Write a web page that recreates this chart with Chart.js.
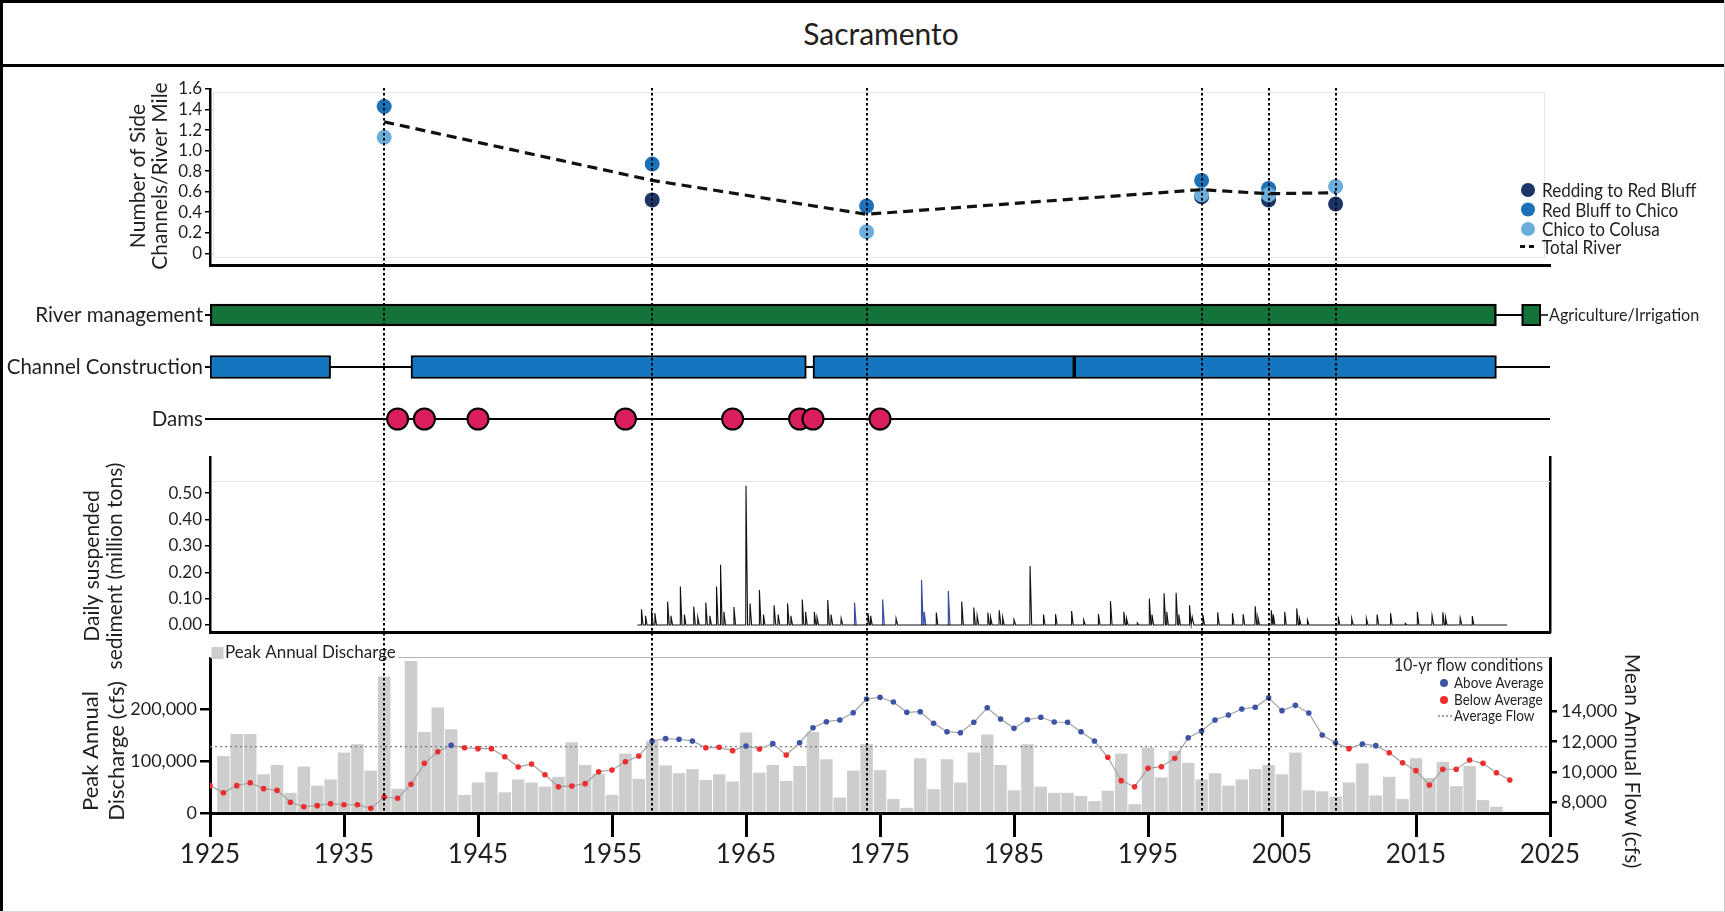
<!DOCTYPE html>
<html>
<head>
<meta charset="utf-8">
<title>Sacramento</title>
<script src="https://cdn.jsdelivr.net/npm/chart.js@4/dist/chart.umd.min.js"></script>
<style>
  html, body { margin: 0; padding: 0; background: #fff; }
  #page { position: relative; width: 1725px; height: 912px; overflow: hidden; background: #fff; }
  #page canvas { position: absolute; left: 0; top: 0; }
  .rule { position: absolute; }
  #title {
    position: absolute; left: 881px; top: 33px; transform: translate(-50%, -50%);
    font-family: Lato, "Open Sans", sans-serif; font-size: 30px; color: #231f20; white-space: nowrap;
  }
</style>
</head>
<body>
<div id="page">
  <div class="rule" style="left:0;top:0;width:1725px;height:3px;background:#000"></div>
  <div class="rule" style="left:0;top:64px;width:1725px;height:3px;background:#000"></div>
  <div class="rule" style="left:0;top:0;width:3px;height:912px;background:#000"></div>
  <div class="rule" style="left:1724px;top:0;width:1px;height:912px;background:#cfcfcf"></div>
  <div class="rule" style="left:0;top:911px;width:1725px;height:1px;background:#d8d8d8"></div>
  <div id="title">Sacramento</div>
  <canvas id="sideChannels" width="1725" height="912"></canvas>
  <canvas id="timeline" width="1725" height="912"></canvas>
  <canvas id="sediment" width="1725" height="912"></canvas>
  <canvas id="discharge" width="1725" height="912"></canvas>
</div>
<script>
// ---------- side channel surveys ----------
const surveyYears       = [1938, 1958, 1974, 1999, 2004, 2009];
const reddingToRedBluff = [null, 0.52, null, 0.55, 0.52, 0.48];
const redBluffToChico   = [1.43, 0.87, 0.46, 0.71, 0.63, null];
const chicoToColusa     = [1.13, null, 0.21, 0.57, 0.57, 0.65];
const totalRiver        = [1.28, 0.71, 0.38, 0.62, 0.58, 0.59];
const sideChannelTicks  = [0, 0.2, 0.4, 0.6, 0.8, 1.0, 1.2, 1.4, 1.6];

// ---------- management timeline ----------
const timelineRows = ['River management', 'Channel Construction', 'Dams'];
const riverManagementSpans = [[1925, 2021]];
const channelConstructionSpans = [[1925, 1934], [1940, 1969.5], [1970, 1989.5], [1989.5, 2021]];
const damYears = [1939, 1941, 1945, 1956, 1964, 1969, 1970, 1975];

// ---------- daily suspended sediment (storm peaks, million tons) ----------
const sedimentRecord = [1956.9, 2021.8];
const sedimentPeakTimes = [
  1957.2, 1957.5, 1957.95, 1958.2, 1959.15, 1959.4, 1960.1, 1960.4, 1961.1, 1961.4,
  1962.0, 1962.3, 1962.8, 1963.1, 1963.35, 1964.1, 1965.0, 1965.3, 1966.0, 1966.3,
  1967.1, 1967.4, 1968.1, 1968.35, 1969.2, 1969.45, 1970.1, 1970.3, 1971.1, 1971.35,
  1972.1, 1974.1, 1974.3, 1976.2, 1979.2, 1981.1, 1982.0, 1982.25, 1983.05, 1983.25,
  1983.9, 1984.15, 1985.0, 1986.2, 1987.2, 1988.1, 1989.3, 1990.2, 1991.3, 1992.2,
  1993.2, 1993.4, 1994.2, 1995.1, 1995.3, 1996.2, 1996.4, 1997.1, 1997.3, 1998.1,
  1998.3, 1999.1, 2000.2, 2001.3, 2002.1, 2003.0, 2003.2, 2004.2, 2004.35, 2005.2,
  2006.1, 2006.3, 2006.9, 2009.2, 2010.2, 2011.3, 2012.1, 2013.1, 2014.2, 2015.1,
  2016.2, 2017.0, 2017.2, 2018.3, 2019.2
];
const sedimentPeakValues = [
  0.060, 0.035, 0.055, 0.045, 0.089, 0.035, 0.146, 0.040, 0.070, 0.030,
  0.085, 0.035, 0.146, 0.228, 0.050, 0.068, 0.528, 0.082, 0.133, 0.040,
  0.075, 0.040, 0.082, 0.035, 0.097, 0.050, 0.050, 0.030, 0.095, 0.040,
  0.025, 0.045, 0.035, 0.025, 0.047, 0.089, 0.066, 0.035, 0.047, 0.030,
  0.056, 0.030, 0.020, 0.224, 0.040, 0.041, 0.053, 0.019, 0.041, 0.091,
  0.050, 0.025, 0.008, 0.100, 0.040, 0.120, 0.050, 0.122, 0.040, 0.075,
  0.030, 0.038, 0.048, 0.045, 0.041, 0.071, 0.030, 0.056, 0.040, 0.050,
  0.063, 0.025, 0.019, 0.032, 0.025, 0.025, 0.040, 0.045, 0.006, 0.050,
  0.035, 0.048, 0.030, 0.027, 0.034
];
const sedimentEstimatedTimes  = [1973.1, 1975.2, 1978.1, 1978.3, 1980.1];
const sedimentEstimatedValues = [0.085, 0.097, 0.171, 0.050, 0.129];
const sedimentTicks = [0, 0.1, 0.2, 0.3, 0.4, 0.5];

// ---------- discharge ----------
const peakDischarge = [
  110000, 153000, 153000, 75000, 93000, 39000, 90000, 53000, 65000, 117000,   // 1926-1935
  133000, 82000, 264000, 47000, 294000, 157000, 204000, 162000, 35000, 59000, // 1936-1945
  79000, 40000, 65000, 59000, 51000, 70000, 137000, 93000, 76000, 35000,      // 1946-1955
  115000, 66000, 140000, 92000, 77000, 85000, 64000, 75000, 61000, 156000,    // 1956-1965
  78000, 93000, 62000, 91000, 157000, 104000, 30000, 82000, 133000, 83000,    // 1966-1975
  27000, 10000, 106000, 46000, 104000, 59000, 117000, 152000, 93000, 44000,   // 1976-1985
  133000, 51000, 39000, 39000, 33000, 23000, 43000, 115000, 17000, 127000,    // 1986-1995
  69000, 120000, 97000, 65000, 77000, 53000, 65000, 85000, 93000, 75000,      // 1996-2005
  117000, 44000, 42000, 32000, 59000, 96000, 34000, 70000, 27000, 106000,     // 2006-2015
  68000, 99000, 52000, 91000, 25000, 12000                                    // 2016-2021
];
const peakYears = peakDischarge.map((_, i) => 1926 + i);

const meanFlow10yr = [
  9100, 8630, 9100, 9290, 8900, 8790, 8000, 7710, 7780, 7910,        // 1925-1934
  7840, 7840, 7600, 8350, 8260, 9190, 10570, 11340, 11760, 11600,    // 1935-1944
  11540, 11540, 11010, 10330, 10530, 9820, 9030, 9080, 9230, 10020,  // 1945-1954
  10130, 10680, 11060, 12050, 12200, 12160, 12050, 11600, 11630, 11410, // 1955-1964
  11720, 11520, 11870, 11120, 11930, 12920, 13320, 13430, 13910, 14820, // 1965-1974
  14930, 14620, 13940, 13980, 13210, 12660, 12590, 13280, 14240, 13500, // 1975-1984
  12880, 13450, 13610, 13300, 13280, 12660, 12050, 10970, 9430, 9030,   // 1985-1994
  10240, 10350, 10900, 12260, 12710, 13430, 13760, 14160, 14270, 14900, // 1995-2004
  14050, 14400, 13890, 12440, 11930, 11540, 11850, 11740, 11270, 10610, // 2005-2014
  10090, 9140, 10180, 10180, 10790, 10570, 9950, 9470                  // 2015-2022
];
const flowYears = meanFlow10yr.map((_, i) => 1925 + i);
const averageFlow = 11670;

const yearTicks = [1925, 1935, 1945, 1955, 1965, 1975, 1985, 1995, 2005, 2015, 2025];
const dischargeTicks = [0, 100000, 200000];
const flowTicks = [8000, 10000, 12000, 14000];

// ---------- shared styling ----------
const INK = '#231f20';
const SANS = 'Lato, "Open Sans", "Noto Sans", sans-serif';
const PAGE_H = 912;
const LEFT_W = 210, RIGHT_W = 175;
const COLORS = {
  redding: '#1d3466', redBluff: '#1b70b7', chico: '#6caedb',
  river: '#137338', channel: '#1476be', dam: '#da1d5e',
  bar: '#cdcdcd', above: '#3d53a6', below: '#ee2e2e'
};

Chart.defaults.font.family = SANS;
Chart.defaults.color = INK;

const pairs = (xs, ys) => xs.map((x, i) => ({ x, y: ys[i] }));
const tickList = list => scale => { scale.ticks = list.map(v => ({ value: v })); };
const fixWidth = w => scale => { scale.width = w; scale.paddingTop = 0; scale.paddingBottom = 0; };
const fixHeight = h => scale => { scale.height = h; scale.paddingLeft = 0; scale.paddingRight = 0; };

function hiddenX(extra) {
  return Object.assign({
    type: 'linear', min: 1925, max: 2025, offset: false,
    ticks: { display: false }, grid: { display: false, offset: false },
    border: { display: false }
  }, extra || {});
}

// text helper: multi-line, optional rotation and horizontal squeeze
function textLines(ctx, lines, x, y, o) {
  ctx.save();
  ctx.translate(x, y);
  ctx.rotate(o.rotation || 0);
  if (o.squeeze) ctx.scale(o.squeeze, 1);
  ctx.font = o.font;
  ctx.fillStyle = INK;
  ctx.textAlign = o.align || 'center';
  ctx.textBaseline = 'middle';
  const lh = o.lineHeight || 0;
  lines.forEach((ln, i) => ctx.fillText(ln, 0, (i - (lines.length - 1) / 2) * lh));
  ctx.restore();
}

// dotted survey-year markers running down through all panels
function surveyMarkers(fromY) {
  return {
    id: 'surveyMarkers',
    afterDraw(chart) {
      const { ctx } = chart;
      const xs = chart.scales.x;
      ctx.save();
      ctx.strokeStyle = '#000';
      ctx.lineWidth = 2;
      ctx.setLineDash([2.5, 2.5]);
      surveyYears.forEach(yr => {
        const px = Math.round(xs.getPixelForValue(yr));
        ctx.beginPath();
        ctx.moveTo(px, fromY);
        ctx.lineTo(px, chart.chartArea.bottom - 1);
        ctx.stroke();
      });
      ctx.restore();
    }
  };
}

function decorations(before, after) {
  return {
    id: 'decorations',
    beforeDatasetsDraw(chart) { if (before) { chart.ctx.save(); before(chart, chart.ctx); chart.ctx.restore(); } },
    afterDraw(chart) { if (after) { chart.ctx.save(); after(chart, chart.ctx); chart.ctx.restore(); } }
  };
}

const baseOptions = {
  responsive: false,
  animation: false,
  events: [],
  plugins: { legend: { display: false }, tooltip: { enabled: false } }
};

// ---------- panel 1: side channels per river mile ----------
new Chart(document.getElementById('sideChannels'), {
  type: 'scatter',
  data: {
    datasets: [
      { label: 'Redding to Red Bluff', data: pairs(surveyYears, reddingToRedBluff),
        backgroundColor: COLORS.redding, pointRadius: 7.5, borderWidth: 0, order: 4 },
      { label: 'Red Bluff to Chico', data: pairs(surveyYears, redBluffToChico),
        backgroundColor: COLORS.redBluff, pointRadius: 7.5, borderWidth: 0, order: 3 },
      { label: 'Chico to Colusa', data: pairs(surveyYears, chicoToColusa),
        backgroundColor: COLORS.chico, pointRadius: 7.5, borderWidth: 0, order: 2 },
      { label: 'Total River', type: 'line', data: pairs(surveyYears, totalRiver),
        borderColor: '#111', borderWidth: 3.2, borderDash: [10, 6], pointRadius: 0,
        fill: false, tension: 0, order: 1 }
    ]
  },
  options: Object.assign({}, baseOptions, {
    layout: { padding: { left: 0, right: RIGHT_W, top: 89, bottom: PAGE_H - 265 } },
    scales: {
      x: hiddenX({ display: true, border: { display: true, color: '#000', width: 3 }, afterFit: fixHeight(0) }),
      y: {
        min: -0.114, max: 1.6,
        afterFit: fixWidth(LEFT_W),
        afterBuildTicks: tickList(sideChannelTicks),
        ticks: { font: { size: 17 }, color: INK, padding: 3, autoSkip: false,
                 callback: v => (v === 0 ? '0' : v.toFixed(1)) },
        grid: { drawOnChartArea: false, drawTicks: true, tickLength: 5, color: '#000', lineWidth: 1.5 },
        border: { color: '#000', width: 2.5 }
      }
    }
  }),
  plugins: [
    decorations(
      (chart, ctx) => {
        const a = chart.chartArea;
        ctx.strokeStyle = '#e6e6e6';
        ctx.lineWidth = 1;
        ctx.strokeRect(a.left + 3.5, a.top + 3.5, a.right - a.left - 9, a.bottom - a.top - 11);
      },
      (chart, ctx) => {
        textLines(ctx, ['Number of Side', 'Channels/River Mile'], 149, 176,
                  { font: '21px ' + SANS, rotation: -Math.PI / 2, lineHeight: 22 });
        const kx = 1528, tx = 1542;
        const rows = [190, 209.5, 229, 246.5];
        const ds = chart.data.datasets;
        [0, 1, 2].forEach(i => {
          ctx.fillStyle = ds[i].backgroundColor;
          ctx.beginPath();
          ctx.arc(kx, rows[i], 7, 0, Math.PI * 2);
          ctx.fill();
          textLines(ctx, [ds[i].label], tx, rows[i] + 1, { font: '19px ' + SANS, align: 'left', squeeze: 0.9 });
        });
        ctx.strokeStyle = '#111';
        ctx.lineWidth = 3;
        ctx.setLineDash([5, 4]);
        ctx.beginPath();
        ctx.moveTo(1520, rows[3]);
        ctx.lineTo(1536, rows[3]);
        ctx.stroke();
        ctx.setLineDash([]);
        textLines(ctx, [ds[3].label], tx, rows[3] + 1, { font: '19px ' + SANS, align: 'left', squeeze: 0.9 });
      }
    )
  ]
});

// ---------- panel 2: management timeline ----------
new Chart(document.getElementById('timeline'), {
  type: 'bar',
  data: {
    labels: timelineRows,
    datasets: [
      { type: 'line', data: [{ x: 1925, y: timelineRows[0] }, { x: 2023, y: timelineRows[0] }],
        borderColor: '#000', borderWidth: 2, pointRadius: 0, order: 6 },
      { type: 'line', data: [{ x: 1925, y: timelineRows[1] }, { x: 2025, y: timelineRows[1] }],
        borderColor: '#000', borderWidth: 2, pointRadius: 0, order: 6 },
      { type: 'line', data: [{ x: 1925, y: timelineRows[2] }, { x: 2025, y: timelineRows[2] }],
        borderColor: '#000', borderWidth: 2, pointRadius: 0, order: 6 },
      { label: 'River management', indexAxis: 'y', grouped: false,
        data: riverManagementSpans.map(s => ({ x: s, y: timelineRows[0] })),
        backgroundColor: COLORS.river, borderColor: '#000', borderWidth: 2.5,
        borderSkipped: false, barThickness: 22, order: 3 },
      { label: 'Channel Construction', indexAxis: 'y', grouped: false,
        data: channelConstructionSpans.map(s => ({ x: s, y: timelineRows[1] })),
        backgroundColor: COLORS.channel, borderColor: '#000', borderWidth: 2,
        borderSkipped: false, barThickness: 23, order: 3 },
      { label: 'Dams', type: 'scatter', data: damYears.map(x => ({ x, y: timelineRows[2] })),
        backgroundColor: COLORS.dam, borderColor: '#000', borderWidth: 2, pointRadius: 10.5, order: 1 }
    ]
  },
  options: Object.assign({}, baseOptions, {
    layout: { padding: { left: 0, right: RIGHT_W, top: 289, bottom: PAGE_H - 445 } },
    scales: {
      x: hiddenX({ display: false }),
      y: {
        type: 'category', offset: true,
        afterFit: fixWidth(LEFT_W),
        ticks: { font: { size: 20.5 }, color: INK, padding: 2 },
        grid: { drawOnChartArea: false, drawTicks: true, tickLength: 5, offset: false, color: '#000', lineWidth: 2 },
        border: { display: false }
      }
    }
  }),
  plugins: [
    decorations(null, (chart, ctx) => {
      const a = chart.chartArea;
      const yRow = chart.scales.y.getPixelForValue(0);
      ctx.fillStyle = COLORS.river;
      ctx.strokeStyle = '#000';
      ctx.lineWidth = 2;
      ctx.fillRect(a.right - 27.5, yRow - 10, 17.5, 20);
      ctx.strokeRect(a.right - 27.5, yRow - 10, 17.5, 20);
      ctx.lineWidth = 1.5;
      ctx.beginPath();
      ctx.moveTo(a.right - 10, yRow);
      ctx.lineTo(a.right - 2, yRow);
      ctx.stroke();
      textLines(ctx, ['Agriculture/Irrigation'], a.right - 1, yRow + 1, { font: '17px ' + SANS, align: 'left', squeeze: 0.95 });
    })
  ]
});

// ---------- panel 3: daily suspended sediment ----------
function spikes(times, values, start, end) {
  const pts = [];
  if (start !== undefined) pts.push({ x: start, y: 0 });
  times.forEach((t, i) => {
    pts.push({ x: t - 0.02, y: 0 }, { x: t, y: values[i] }, { x: t + 0.12, y: 0 });
    if (start === undefined) pts.push({ x: t + 0.13, y: null });
  });
  if (end !== undefined) pts.push({ x: end, y: 0 });
  return pts;
}

new Chart(document.getElementById('sediment'), {
  type: 'line',
  data: {
    datasets: [
      { label: 'Suspended sediment', data: spikes(sedimentPeakTimes, sedimentPeakValues, sedimentRecord[0], sedimentRecord[1]),
        borderColor: '#111', borderWidth: 1.1, pointRadius: 0, tension: 0, spanGaps: false },
      { label: 'Suspended sediment (estimated)', data: spikes(sedimentEstimatedTimes, sedimentEstimatedValues),
        borderColor: '#3b4ea0', borderWidth: 1.2, pointRadius: 0, tension: 0, spanGaps: false }
    ]
  },
  options: Object.assign({}, baseOptions, {
    layout: { padding: { left: 0, right: 0, top: 457, bottom: PAGE_H - 632 } },
    scales: {
      x: hiddenX({ display: true, border: { display: true, color: '#000', width: 3 }, afterFit: fixHeight(0) }),
      y: {
        min: -0.0265, max: 0.637,
        afterFit: fixWidth(LEFT_W),
        afterBuildTicks: tickList(sedimentTicks),
        ticks: { font: { size: 17 }, color: INK, padding: 3, autoSkip: false, callback: v => v.toFixed(2) },
        grid: { drawOnChartArea: false, drawTicks: true, tickLength: 5, color: '#000', lineWidth: 1.5 },
        border: { color: '#000', width: 2.5 }
      },
      y2: {
        position: 'right', min: -0.0265, max: 0.637,
        afterFit: fixWidth(RIGHT_W),
        ticks: { display: false }, grid: { display: false },
        border: { display: true, color: '#000', width: 2.5 }
      }
    }
  }),
  plugins: [
    decorations(
      (chart, ctx) => {
        const a = chart.chartArea;
        ctx.strokeStyle = '#e4e4e4';
        ctx.lineWidth = 1;
        ctx.beginPath();
        ctx.moveTo(a.left + 2, a.top + 24.5);
        ctx.lineTo(a.right, a.top + 24.5);
        ctx.stroke();
      },
      (chart, ctx) => {
        textLines(ctx, ['Daily suspended', 'sediment (million tons)'], 103.5, 566,
                  { font: '21px ' + SANS, rotation: -Math.PI / 2, lineHeight: 23 });
      }
    )
  ]
});

// ---------- panel 4: peak annual discharge and 10-yr mean annual flow ----------
new Chart(document.getElementById('discharge'), {
  type: 'bar',
  data: {
    datasets: [
      { type: 'line', label: 'Average Flow', yAxisID: 'y2',
        data: [{ x: 1925, y: averageFlow }, { x: 2025, y: averageFlow }],
        borderColor: '#7a7a7a', borderWidth: 1.3, borderDash: [2, 3], pointRadius: 0, order: 2 },
      { type: 'line', label: '10-yr mean annual flow', yAxisID: 'y2',
        data: pairs(flowYears, meanFlow10yr),
        borderColor: '#a3a3a3', borderWidth: 1.2, tension: 0,
        pointRadius: 2.8, pointBorderWidth: 0,
        pointBackgroundColor: c => (c.raw && c.raw.y > averageFlow ? COLORS.above : COLORS.below),
        order: 1 },
      { type: 'bar', label: 'Peak Annual Discharge', yAxisID: 'y',
        data: pairs(peakYears, peakDischarge),
        backgroundColor: COLORS.bar, barPercentage: 0.93, categoryPercentage: 1, order: 3 }
    ]
  },
  options: Object.assign({}, baseOptions, {
    layout: { padding: { left: 0, right: 0, top: 658, bottom: 0 } },
    scales: {
      x: {
        type: 'linear', min: 1925, max: 2025, offset: false,
        afterBuildTicks: tickList(yearTicks),
        afterFit: fixHeight(99),
        ticks: { font: { size: 26 }, color: INK, padding: 2, maxRotation: 0, autoSkip: false,
                 callback: v => String(v) },
        grid: { display: true, drawOnChartArea: false, drawTicks: true, tickLength: 24,
                color: '#000', lineWidth: 3, offset: false },
        border: { display: true, color: '#000', width: 3 }
      },
      y: {
        position: 'left', min: 0, max: 300000,
        afterFit: fixWidth(LEFT_W),
        afterBuildTicks: tickList(dischargeTicks),
        ticks: { font: { size: 18 }, color: INK, padding: 3, autoSkip: false, callback: v => v.toLocaleString('en-US') },
        grid: { drawOnChartArea: false, drawTicks: true, tickLength: 10, color: '#000', lineWidth: 2.5 },
        border: { color: '#000', width: 3 }
      },
      y2: {
        position: 'right', min: 7294, max: 17524,
        afterFit: fixWidth(RIGHT_W),
        afterBuildTicks: tickList(flowTicks),
        ticks: { font: { size: 18 }, color: INK, padding: 4, autoSkip: false, callback: v => v.toLocaleString('en-US') },
        grid: { drawOnChartArea: false, drawTicks: true, tickLength: 7, color: '#000', lineWidth: 2.5 },
        border: { color: '#000', width: 3 }
      }
    }
  }),
  plugins: [
    decorations(
      (chart, ctx) => {
        const a = chart.chartArea;
        ctx.strokeStyle = '#b5b5b5';
        ctx.lineWidth = 1;
        ctx.beginPath();
        ctx.moveTo(a.left, a.top - 0.5);
        ctx.lineTo(a.right, a.top - 0.5);
        ctx.stroke();
      },
      (chart, ctx) => {
        const a = chart.chartArea;
        // bar legend
        ctx.font = '17px ' + SANS;
        const label = chart.data.datasets[2].label;
        const w = ctx.measureText(label).width;
        ctx.fillStyle = '#fff';
        ctx.fillRect(a.left + 1.5, a.top - 12, w + 16, 12);
        ctx.fillStyle = COLORS.bar;
        ctx.fillRect(a.left + 1.5, a.top - 11, 12, 12);
        textLines(ctx, [label], a.left + 15, a.top - 5, { font: '17px ' + SANS, align: 'left' });
        // flow condition legend
        textLines(ctx, ['10-yr flow conditions'], 1543, 666, { font: '17px ' + SANS, align: 'right', squeeze: 0.93 });
        const items = [
          { y: 683, color: COLORS.above, text: 'Above Average' },
          { y: 700, color: COLORS.below, text: 'Below Average' }
        ];
        items.forEach(it => {
          ctx.fillStyle = it.color;
          ctx.beginPath();
          ctx.arc(1444, it.y, 4, 0, Math.PI * 2);
          ctx.fill();
          textLines(ctx, [it.text], 1454, it.y, { font: '15px ' + SANS, align: 'left', squeeze: 0.9 });
        });
        ctx.strokeStyle = '#444';
        ctx.lineWidth = 1.2;
        ctx.setLineDash([2, 2]);
        ctx.beginPath();
        ctx.moveTo(1438, 716);
        ctx.lineTo(1452, 716);
        ctx.stroke();
        ctx.setLineDash([]);
        textLines(ctx, ['Average Flow'], 1454, 716, { font: '15px ' + SANS, align: 'left', squeeze: 0.9 });
        // axis titles
        textLines(ctx, ['Peak Annual', 'Discharge (cfs)'], 103.5, 751,
                  { font: '22px ' + SANS, rotation: -Math.PI / 2, lineHeight: 26 });
        textLines(ctx, ['Mean Annual Flow (cfs)'], 1632, 761,
                  { font: '21px ' + SANS, rotation: Math.PI / 2 });
      }
    ),
    surveyMarkers(88)
  ]
});
</script>
</body>
</html>
